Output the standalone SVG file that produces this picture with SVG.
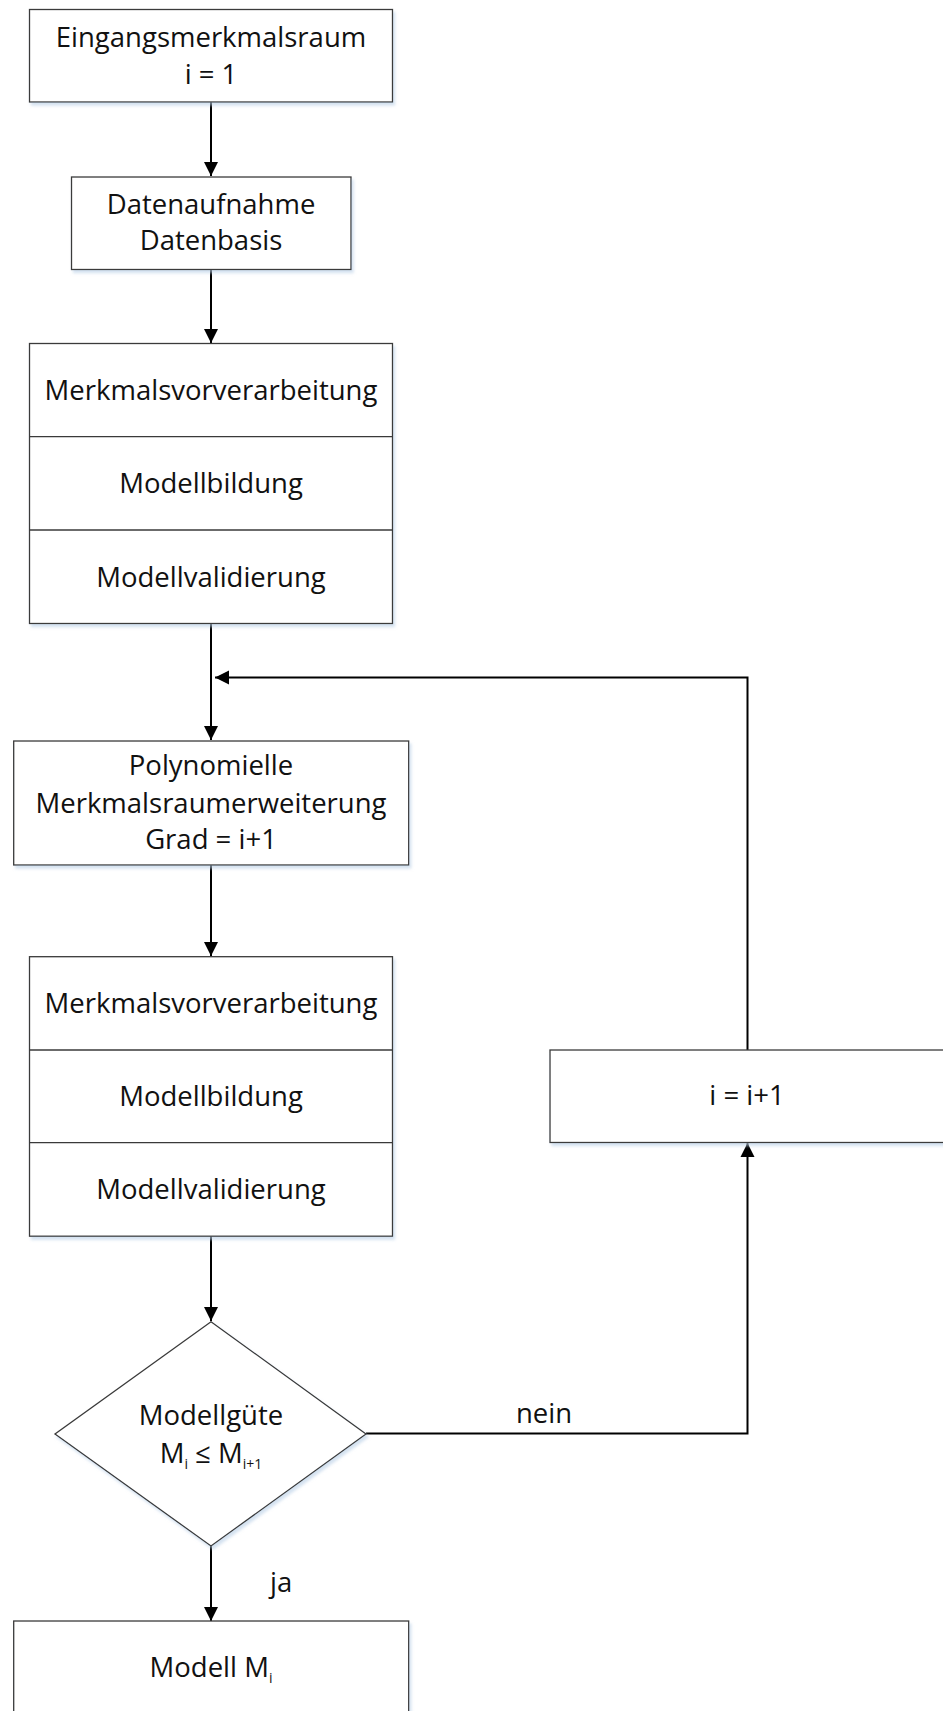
<svg xmlns="http://www.w3.org/2000/svg" width="943" height="1711" viewBox="0 0 943 1711">
<defs>
<marker id="arr" markerUnits="userSpaceOnUse" markerWidth="16" markerHeight="16" viewBox="0 0 16 16" refX="14" refY="8" orient="auto">
<path d="M0,1 L14,8 L0,15 Z" fill="#000"/>
</marker>
<filter id="sh" x="-5%" y="-5%" width="115%" height="125%">
<feDropShadow dx="2" dy="3" stdDeviation="1.5" flood-color="#b8cfe6" flood-opacity="0.6"/>
</filter>
<style>
.box{fill:#fff;stroke:#3a3a3a;stroke-width:1.3}
.div{stroke:#3a3a3a;stroke-width:1.3}
.t{font-family:"Open Sans","Noto Sans",sans-serif;font-size:27.5px;fill:#111;text-anchor:middle}
.lbl{font-family:"Open Sans","Noto Sans",sans-serif;font-size:27.5px;fill:#111}
.sub{font-size:14px}
.c{fill:none;stroke:#000;stroke-width:2}
</style>
</defs>
<g id="connectors">
<line class="c" x1="211" y1="102" x2="211" y2="176" marker-end="url(#arr)"/>
<line class="c" x1="211" y1="269" x2="211" y2="343" marker-end="url(#arr)"/>
<line class="c" x1="211" y1="623" x2="211" y2="740" marker-end="url(#arr)"/>
<polyline class="c" points="747.5,1050 747.5,677.5 215,677.5" marker-end="url(#arr)"/>
<line class="c" x1="211" y1="865" x2="211" y2="956" marker-end="url(#arr)"/>
<line class="c" x1="211" y1="1236" x2="211" y2="1321" marker-end="url(#arr)"/>
<polyline class="c" points="366,1433.5 747.5,1433.5 747.5,1143" marker-end="url(#arr)"/>
<line class="c" x1="211" y1="1546" x2="211" y2="1621" marker-end="url(#arr)"/>
<text class="lbl" x="516" y="1422.5">nein</text>
<text class="lbl" x="270" y="1591.5">ja</text>
</g>
<g id="start">
<rect class="box" filter="url(#sh)" x="29.5" y="9.5" width="363" height="92.5"/>
<text class="t" x="211" y="46.5">Eingangsmerkmalsraum</text>
<text class="t" x="211" y="83.5">i = 1</text>
</g>
<g id="daten">
<rect class="box" filter="url(#sh)" x="71.5" y="177" width="279.5" height="92.5"/>
<text class="t" x="211" y="213.5">Datenaufnahme</text>
<text class="t" x="211" y="250">Datenbasis</text>
</g>
<g id="block1">
<rect class="box" filter="url(#sh)" x="29.5" y="343.5" width="363" height="280"/>
<line class="div" x1="29.5" y1="436.7" x2="392.5" y2="436.7"/>
<line class="div" x1="29.5" y1="530" x2="392.5" y2="530"/>
<text class="t" x="211" y="400">Merkmalsvorverarbeitung</text>
<text class="t" x="211" y="493.3">Modellbildung</text>
<text class="t" x="211" y="586.7">Modellvalidierung</text>
</g>
<g id="poly">
<rect class="box" filter="url(#sh)" x="13.7" y="741" width="395" height="124"/>
<text class="t" x="211" y="775">Polynomielle</text>
<text class="t" x="211" y="813.3">Merkmalsraumerweiterung</text>
<text class="t" x="211" y="849">Grad = i+1</text>
</g>
<g id="block2">
<rect class="box" filter="url(#sh)" x="29.5" y="956.7" width="363" height="279.5"/>
<line class="div" x1="29.5" y1="1050" x2="392.5" y2="1050"/>
<line class="div" x1="29.5" y1="1142.7" x2="392.5" y2="1142.7"/>
<text class="t" x="211" y="1013.3">Merkmalsvorverarbeitung</text>
<text class="t" x="211" y="1106">Modellbildung</text>
<text class="t" x="211" y="1199.3">Modellvalidierung</text>
</g>
<g id="increment">
<rect class="box" filter="url(#sh)" x="550" y="1050" width="395" height="92.5"/>
<text class="t" x="747" y="1105">i = i+1</text>
</g>
<g id="decision">
<polygon class="box" filter="url(#sh)" points="211,1321.7 366,1434 211,1546 55,1434"/>
<text class="t" x="211" y="1425">Modellgüte</text>
<text class="t" x="211" y="1462.7">M<tspan class="sub" dy="6">i</tspan><tspan dy="-6"> ≤ M</tspan><tspan class="sub" dy="6">i+1</tspan></text>
</g>
<g id="result">
<rect class="box" filter="url(#sh)" x="13.7" y="1621" width="395" height="100"/>
<text class="t" x="211" y="1677">Modell M<tspan class="sub" dy="6">i</tspan></text>
</g>
</svg>
